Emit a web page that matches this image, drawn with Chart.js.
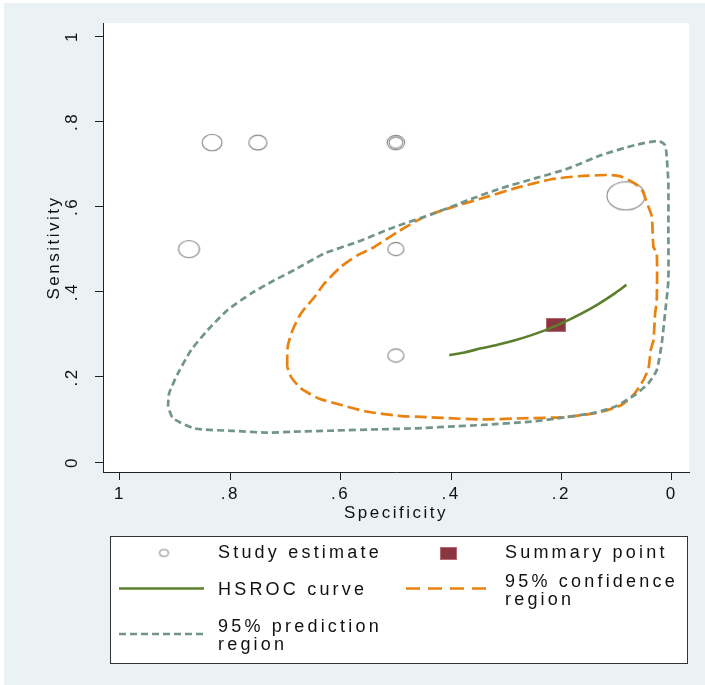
<!DOCTYPE html>
<html>
<head>
<meta charset="utf-8">
<script src="https://cdn.jsdelivr.net/npm/chart.js@4.4.1/dist/chart.umd.min.js"></script>
<style>
  html, body { margin: 0; padding: 0; background: #ffffff; }
  #wrap { width: 705px; height: 685px; }
  canvas { display: block; }
</style>
</head>
<body>
<div id="wrap"><canvas id="c" width="705" height="685"></canvas></div>
<script>
// ---- data ----
const specTicks = [1, 0.8, 0.6, 0.4, 0.2, 0];
const sensTicks = [0, 0.2, 0.4, 0.6, 0.8, 1];

// individual studies (specificity, sensitivity, relative weight)
const studySpec   = [0.833, 0.75, 0.5, 0.5, 0.875, 0.5, 0.5, 0.083];
const studySens   = [0.75, 0.75, 0.75, 0.75, 0.5, 0.5, 0.25, 0.625];
const studyWeight = [1.05, 0.95, 0.92, 0.72, 1.1, 0.85, 0.85, 2.0];

// summary operating point
const summarySpec = [0.21];
const summarySens = [0.322];

// HSROC curve
const hsrocSpec = [0.403, 0.374, 0.345, 0.314, 0.284, 0.254, 0.224, 0.194, 0.163, 0.133, 0.103, 0.082];
const hsrocSens = [0.251, 0.258, 0.267, 0.276, 0.286, 0.298, 0.312, 0.329, 0.349, 0.371, 0.396, 0.416];

// 95% confidence region
const ciSpec = [0.697, 0.696, 0.687, 0.672, 0.647, 0.629, 0.599, 0.569, 0.539, 0.496, 0.448, 0.399,
                0.339, 0.278, 0.218, 0.169, 0.115, 0.091, 0.067, 0.054, 0.042, 0.036, 0.033, 0.027,
                0.027, 0.030, 0.033, 0.038, 0.042, 0.051, 0.067, 0.091, 0.127, 0.163, 0.200, 0.260,
                0.345, 0.405, 0.454, 0.490, 0.551, 0.599, 0.641, 0.672, 0.690, 0.697];
const ciSens = [0.224, 0.271, 0.310, 0.349, 0.388, 0.420, 0.459, 0.486, 0.505, 0.541, 0.576, 0.598,
                0.621, 0.645, 0.664, 0.671, 0.674, 0.670, 0.654, 0.639, 0.599, 0.576, 0.505, 0.490,
                0.380, 0.349, 0.286, 0.263, 0.220, 0.193, 0.161, 0.134, 0.118, 0.110, 0.105, 0.103,
                0.100, 0.103, 0.106, 0.108, 0.118, 0.134, 0.150, 0.173, 0.200, 0.224];

// 95% prediction region
const piSpec = [0.913, 0.911, 0.895, 0.871, 0.841, 0.805, 0.762, 0.720, 0.684, 0.629, 0.569, 0.502,
                0.430, 0.369, 0.309, 0.248, 0.188, 0.127, 0.067, 0.024, 0.012, 0.009, 0.006, 0.006,
                0.006, 0.012, 0.018, 0.027, 0.042, 0.067, 0.103, 0.139, 0.194, 0.254, 0.345, 0.405,
                0.466, 0.526, 0.611, 0.690, 0.732, 0.793, 0.865, 0.904, 0.913];
const piSens = [0.130, 0.161, 0.208, 0.263, 0.310, 0.357, 0.396, 0.427, 0.451, 0.490, 0.517, 0.552,
                0.584, 0.615, 0.643, 0.666, 0.689, 0.721, 0.744, 0.754, 0.744, 0.717, 0.654, 0.537,
                0.427, 0.349, 0.279, 0.216, 0.185, 0.157, 0.130, 0.116, 0.105, 0.095, 0.087, 0.083,
                0.079, 0.077, 0.074, 0.071, 0.069, 0.073, 0.079, 0.103, 0.130];

// ---- styles ----
const BG = '#eaf2f3';
const AXIS = '#222222';
const STUDY_COLOR = '#858585';
const SUMMARY_COLOR = '#8b3540';
const HSROC_COLOR = '#5b7f2c';
const CI_COLOR = '#e8830f';
const PI_COLOR = '#72958b';
const CI_DASH = [12, 5];
const PI_DASH = [7, 4];
const FONT = '"Liberation Sans", Arial, sans-serif';

const zip = (xs, ys) => xs.map((x, i) => ({ x, y: ys[i] }));
const fmt = v => (v === 0 ? '0' : v === 1 ? '1' : '.' + Math.round(v * 10));

// hollow ellipse marker for a study, sized by its weight
function ellipseMarker(w, h) {
  const c = document.createElement('canvas');
  c.width = Math.ceil(w) + 4; c.height = Math.ceil(h) + 4;
  const g = c.getContext('2d');
  g.strokeStyle = STUDY_COLOR; g.lineWidth = 1.1;
  g.beginPath();
  g.ellipse(c.width / 2, c.height / 2, w / 2, h / 2, 0, 0, Math.PI * 2);
  g.stroke();
  return c;
}
function rectMarker(w, h) {
  const c = document.createElement('canvas');
  c.width = w; c.height = h;
  const g = c.getContext('2d');
  g.fillStyle = SUMMARY_COLOR;
  g.fillRect(0, 0, w, h);
  g.strokeStyle = 'rgba(190,120,125,0.8)';
  g.lineWidth = 1;
  g.strokeRect(0.5, 0.5, w - 1, h - 1);
  return c;
}
const studyMarkers = studyWeight.map(w => {
  const d = 19 * w;
  return ellipseMarker(d, d * (w > 1.5 ? 0.74 : 0.82));
});
const summaryMarker = rectMarker(20, 14);

// page background, white plot region and letter spacing
const backdrop = {
  id: 'backdrop',
  beforeUpdate(chart) { chart.ctx.letterSpacing = '2.5px'; },
  beforeDraw(chart) {
    const { ctx, chartArea: a } = chart;
    ctx.save();
    ctx.fillStyle = '#ffffff';
    ctx.fillRect(0, 0, chart.width, chart.height);
    ctx.fillStyle = BG;
    ctx.fillRect(4, 3, chart.width - 4, chart.height - 3);
    ctx.fillStyle = '#ffffff';
    ctx.fillRect(a.left, a.top, a.right - a.left, a.bottom - a.top);
    ctx.restore();
    ctx.letterSpacing = '2.5px';
  }
};

// key below the plot
const keyBox = {
  id: 'keyBox',
  afterDraw(chart) {
    const ctx = chart.ctx;
    ctx.save();
    ctx.fillStyle = '#ffffff';
    ctx.fillRect(110, 536, 577, 127);
    ctx.strokeStyle = '#333333';
    ctx.lineWidth = 1;
    ctx.strokeRect(110.5, 536.5, 577, 127);

    // markers
    const m = ellipseMarker(9, 7);
    ctx.drawImage(m, 164 - m.width / 2, 553 - m.height / 2);
    const r = rectMarker(17, 13);
    ctx.drawImage(r, 440, 547);

    ctx.lineWidth = 2.4;
    ctx.strokeStyle = HSROC_COLOR;
    ctx.setLineDash([]);
    ctx.beginPath(); ctx.moveTo(119, 588.5); ctx.lineTo(204, 588.5); ctx.stroke();

    ctx.strokeStyle = CI_COLOR;
    ctx.setLineDash([14, 8]);
    ctx.beginPath(); ctx.moveTo(406, 588.5); ctx.lineTo(492, 588.5); ctx.stroke();

    ctx.strokeStyle = PI_COLOR;
    ctx.setLineDash([7, 4]);
    ctx.beginPath(); ctx.moveTo(119, 634); ctx.lineTo(204, 634); ctx.stroke();
    ctx.setLineDash([]);

    // labels
    ctx.fillStyle = '#111111';
    ctx.font = '18px ' + FONT;
    ctx.letterSpacing = '3.2px';
    ctx.textBaseline = 'middle';
    ctx.textAlign = 'left';
    ctx.fillText('Study estimate', 218, 553);
    ctx.fillText('Summary point', 505, 553);
    ctx.fillText('HSROC curve', 218, 590);
    ctx.fillText('95% confidence', 505, 582);
    ctx.fillText('region', 505, 600);
    ctx.fillText('95% prediction', 218, 627);
    ctx.fillText('region', 218, 645);
    ctx.restore();
    ctx.letterSpacing = '2.5px';
  }
};

new Chart(document.getElementById('c'), {
  type: 'scatter',
  data: {
    datasets: [
      {
        label: '95% prediction region',
        data: zip(piSpec, piSens),
        showLine: true, pointRadius: 0, borderColor: PI_COLOR, borderWidth: 2.7,
        borderDash: PI_DASH, tension: 0.2, fill: false
      },
      {
        label: '95% confidence region',
        data: zip(ciSpec, ciSens),
        showLine: true, pointRadius: 0, borderColor: CI_COLOR, borderWidth: 2.7,
        borderDash: CI_DASH, tension: 0.2, fill: false
      },
      {
        label: 'HSROC curve',
        data: zip(hsrocSpec, hsrocSens),
        showLine: true, pointRadius: 0, borderColor: HSROC_COLOR, borderWidth: 2.6,
        tension: 0.3, fill: false
      },
      {
        label: 'Summary point',
        data: zip(summarySpec, summarySens),
        pointStyle: summaryMarker, pointRadius: 10
      },
      {
        label: 'Study estimate',
        data: zip(studySpec, studySens),
        pointStyle: ctx => studyMarkers[ctx.dataIndex], pointRadius: 10
      }
    ]
  },
  options: {
    responsive: false,
    animation: false,
    devicePixelRatio: 1,
    layout: { padding: { left: 0, right: 16, top: 22, bottom: 158 } },
    plugins: { legend: { display: false }, tooltip: { enabled: false } },
    scales: {
      x: {
        type: 'linear', reverse: true, min: -0.0314, max: 1.0308,
        afterBuildTicks: s => { s.ticks = specTicks.map(v => ({ value: v })); },
        afterFit: s => { s.height = 55; },
        grid: { drawOnChartArea: false, drawTicks: true, tickLength: 8, color: AXIS, lineWidth: 1 },
        border: { display: true, color: AXIS, width: 1 },
        ticks: { callback: v => fmt(v), color: '#111', font: { family: FONT, size: 17 }, padding: 4, maxRotation: 0 },
        title: { display: true, text: 'Specificity', color: '#111', font: { family: FONT, size: 17 }, padding: { top: 0, bottom: 3 } }
      },
      y: {
        type: 'linear', min: -0.0234, max: 1.0304,
        afterBuildTicks: s => { s.ticks = sensTicks.map(v => ({ value: v })); },
        afterFit: s => { s.width = 103; },
        grid: { drawOnChartArea: false, drawTicks: true, tickLength: 8, color: AXIS, lineWidth: 1 },
        border: { display: true, color: AXIS, width: 1 },
        ticks: { callback: v => fmt(v), color: '#111', font: { family: FONT, size: 17 }, padding: 13,
                 minRotation: 90, maxRotation: 90, crossAlign: 'center' },
        title: { display: true, text: 'Sensitivity', color: '#111', font: { family: FONT, size: 17 }, padding: { top: 44, bottom: 0 } }
      }
    }
  },
  plugins: [backdrop, keyBox]
});
</script>
</body>
</html>
